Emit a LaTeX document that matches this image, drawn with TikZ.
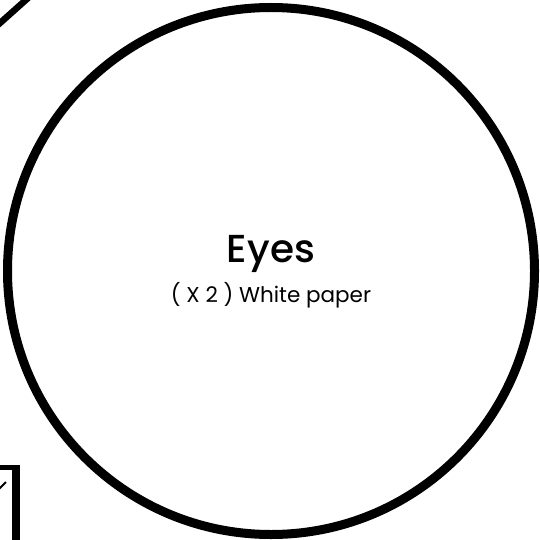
\documentclass[tikz,border=0pt]{standalone}
\usepackage{fontspec}
\setmainfont{Poppins}
\newfontfamily\titlefont{Poppins}[UprightFont = * Medium]
\begin{document}
\begin{tikzpicture}[x=1pt,y=-1pt,
  ring/.style={draw=black,line width=9pt,fill=none},
  title/.style={font=\titlefont\fontsize{39}{44}\selectfont,anchor=base,inner sep=0pt},
  sub/.style={font=\fontsize{21.5}{24}\selectfont,anchor=base,inner sep=0pt}]
\useasboundingbox (0,0) rectangle (539,540);
\begin{scope}
\clip (0,0) rectangle (539,540);
\coordinate (c) at (271,271);
\draw[ring] (c) circle[radius=263.5];
\draw[line width=6.5pt] (-10,32) -- (37,-10);
\fill (-5,465) rectangle (20,470);
\fill (12,465) rectangle (20,545);
\draw[line width=2pt] (-2,490) -- (6,482);
\end{scope}
\node[title] (eyes) at (271,262) {Eyes};
\node[sub] (paper) at (271,302) {( X 2 ) White paper};
\end{tikzpicture}
\end{document}
